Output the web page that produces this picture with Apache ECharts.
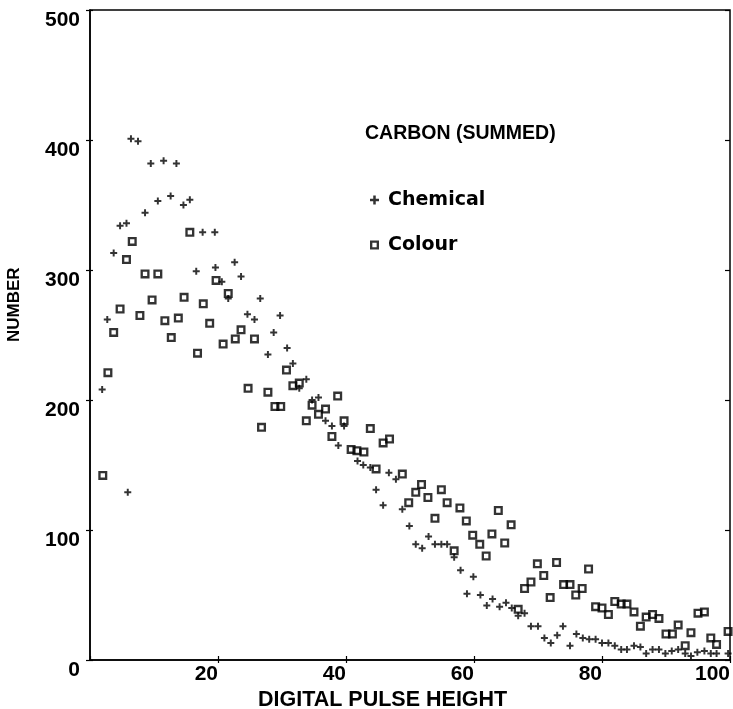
<!DOCTYPE html>
<html>
<head>
<meta charset="utf-8">
<script src="https://cdn.jsdelivr.net/npm/echarts@6/dist/echarts.min.js"></script>
<style>
html,body{margin:0;padding:0;background:#fff;}
#c{width:733px;height:709px;}
</style>
</head>
<body>
<div id="c"></div>
<script>
// ---- data ----
const chemX = [1.9,2.7,3.7,4.7,5.7,5.9,6.4,7.5,8.6,9.5,10.6,11.5,12.6,13.5,14.6,15.6,16.6,17.6,19.5,19.6,20.6,21.6,22.6,23.6,24.6,25.7,26.6,27.8,28.7,29.7,30.8,31.7,32.7,33.8,34.7,35.7,36.8,37.8,38.8,39.7,41.8,42.7,43.8,44.7,45.8,46.7,47.8,48.8,49.9,50.9,51.9,52.9,53.9,54.9,55.8,56.9,57.9,58.9,59.9,61.0,62.0,62.9,64.0,65.0,65.9,66.9,67.9,68.9,70.0,71.0,72.0,73.0,73.9,75.0,76.0,77.0,78.0,79.0,80.0,81.0,82.0,83.0,83.9,85.0,86.0,86.9,87.9,88.9,89.9,90.9,91.9,93.0,93.9,94.9,96.0,97.0,97.9,99.7];
const chemY = [208,262,313,334,336,129,401,399,344,382,353,384,357,382,350,354,299,329,329,302,291,278,306,295,266,262,278,235,252,265,240,228,209,216,200,202,184,180,165,180,153,150,148,131,119,144,139,116,103,89,86,95,89,89,89,79,69,51,64,50,42,47,41,44,40,34,36,26,26,17,13,19,26,11,20,17,16,16,13,13,11,8,8,11,10,5,8,8,5,7,8,5,3,6,7,5,5,5];
const colX = [2.0,2.8,3.7,4.7,5.7,6.6,7.8,8.6,9.7,10.6,11.7,12.7,13.8,14.7,15.6,16.8,17.7,18.7,19.7,20.8,21.6,22.7,23.6,24.7,25.7,26.8,27.8,28.9,29.8,30.7,31.7,32.7,33.8,34.7,35.7,36.8,37.8,38.7,39.7,40.8,41.7,42.8,43.8,44.7,45.8,46.8,48.8,49.8,50.9,51.8,52.8,53.9,54.9,55.8,56.9,57.8,58.8,59.8,60.9,61.9,62.8,63.8,64.8,65.8,66.9,67.9,68.9,69.9,70.9,71.9,72.9,74.0,75.0,75.9,76.9,77.9,79.0,80.0,81.0,82.0,83.0,83.9,85.0,86.0,86.9,87.9,88.9,90.0,91.0,91.9,93.0,93.9,95.0,96.0,97.0,97.9,99.7];
const colY = [142,221,252,270,308,322,265,297,277,297,261,248,263,279,329,236,274,259,292,243,282,247,254,209,247,179,206,195,195,223,211,213,184,196,189,193,172,203,184,162,161,160,178,147,167,170,143,121,129,135,125,109,131,121,84,117,107,96,89,80,97,115,90,104,39,55,60,74,65,48,75,58,58,50,55,70,41,40,35,45,43,43,37,26,33,35,32,20,20,27,11,21,36,37,17,12,22];
const seriesNames = ['Chemical','Colour'];
const chartTitle = 'CARBON (SUMMED)';
const xTitle = 'DIGITAL PULSE HEIGHT';
const yTitle = 'NUMBER';

const FONT = '"Liberation Sans", Arial, sans-serif';
const WIDE = '"DejaVu Sans", sans-serif';
const plusPath = 'path://M3.6,0H6.4V3.6H10V6.4H6.4V10H3.6V6.4H0V3.6H3.6Z';
const boxPath = 'path://M0,0H10V10H0Z M2.6,2.6V7.4H7.4V2.6Z';

const chart = echarts.init(document.getElementById('c'), null, {renderer:'canvas'});
const grid = {left:90, right:1, top:10, bottom:49, show:true, borderColor:'#000', borderWidth:1.5, backgroundColor:'transparent'};
chart.setOption({
  animation:false,
  backgroundColor:'#fff',
  title:{text:chartTitle, left:365, top:124, padding:0,
    textStyle:{fontFamily:FONT, fontWeight:'bold', fontSize:19.5, color:'#000'}},
  legend:{orient:'vertical', left:370, top:190, padding:0, itemGap:25, itemWidth:9, itemHeight:9,
    data:[{name:seriesNames[0], icon:plusPath},{name:seriesNames[1], icon:boxPath}],
    textStyle:{fontFamily:WIDE, fontWeight:'bold', fontSize:19, color:'#000', lineHeight:20, padding:[0,0,0,4]}},
  grid:grid,
  xAxis:[{type:'value', min:0, max:100, interval:20, position:'bottom',
    axisLine:{lineStyle:{color:'#000', width:1.5}},
    axisTick:{show:true, inside:false, length:3, lineStyle:{color:'#000', width:1.2}},
    splitLine:{show:false},
    axisLabel:{showMinLabel:false, align:'right', margin:4, color:'#000',
      fontFamily:FONT, fontWeight:'bold', fontSize:21}},
    {type:'value', min:0, max:100, interval:20, position:'bottom',
    axisLine:{show:false}, axisLabel:{show:false}, splitLine:{show:false},
    axisTick:{show:true, inside:true, length:4, lineStyle:{color:'#000', width:1.2}}}],
  yAxis:[{type:'value', min:0, max:500, interval:100, position:'left',
    axisLine:{lineStyle:{color:'#000', width:1.5}},
    axisTick:{show:true, inside:false, length:4, lineStyle:{color:'#000', width:1.2}},
    splitLine:{show:false},
    axisLabel:{verticalAlign:'top', margin:10, color:'#000',
      fontFamily:FONT, fontWeight:'bold', fontSize:21}},
    {type:'value', min:0, max:500, interval:100, position:'left',
    axisLine:{show:false}, axisLabel:{show:false}, splitLine:{show:false},
    axisTick:{show:true, inside:true, length:3, lineStyle:{color:'#000', width:1.2}}},
    {type:'value', min:0, max:500, interval:100, position:'right',
    axisLine:{show:false}, axisLabel:{show:false}, splitLine:{show:false},
    axisTick:{show:true, inside:true, length:5, lineStyle:{color:'#000', width:1.2}}}],
  graphic:[
    {type:'text', left:258, top:689, style:{text:xTitle, fill:'#000',
      font:'bold 21.5px ' + FONT}},
    {type:'text', x:6, y:342, rotation:Math.PI/2, style:{text:yTitle, fill:'#000',
      font:'bold 17px ' + FONT}}
  ],
  series:[
    {name:seriesNames[0], type:'scatter', symbol:plusPath, symbolSize:7,
      itemStyle:{color:'#000'}, data:chemX.map((x,i)=>[x, chemY[i]])},
    {name:seriesNames[1], type:'scatter', symbol:boxPath, symbolSize:9,
      itemStyle:{color:'#000'}, data:colX.map((x,i)=>[x, colY[i]])}
  ]
});
</script>
</body>
</html>
